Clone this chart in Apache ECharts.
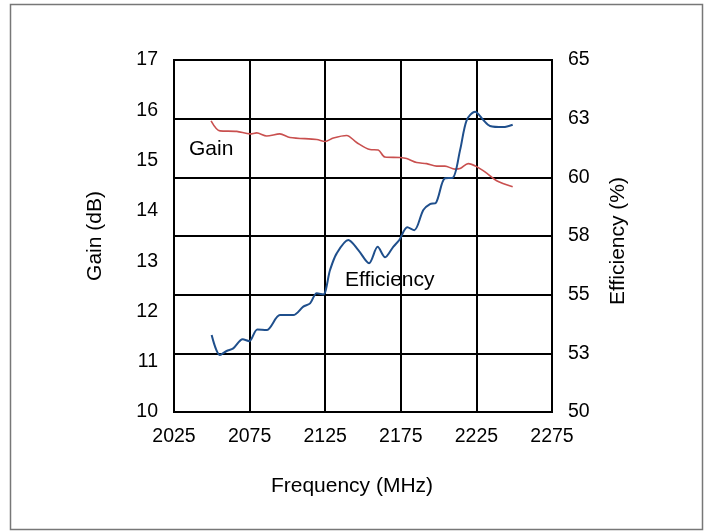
<!DOCTYPE html>
<html><head><meta charset="utf-8">
<script src="https://cdn.jsdelivr.net/npm/echarts@6/dist/echarts.min.js"></script>
<style>html,body{margin:0;padding:0;background:#fff}#c{width:704px;height:531px}</style>
</head><body><div id="c"></div>
<script>
const gainFreq = [2049.5,2055.4,2066.5,2075.3,2079.7,2086.3,2095,2101.7,2119.4,2124.9,2130.4,2139.2,2145.8,2154.6,2160.1,2164.5,2174.5,2178.9,2185.5,2192.1,2198.7,2204.2,2210.8,2214.2,2219.6,2225.2,2231.8,2238.4,2249];
const gainVals = [15.79,15.59,15.58,15.53,15.55,15.49,15.53,15.46,15.42,15.38,15.45,15.50,15.36,15.22,15.21,15.07,15.06,15.04,14.96,14.94,14.89,14.89,14.83,14.84,14.94,14.88,14.75,14.60,14.48];
const effFreq = [2049.9,2055.4,2059.8,2064.2,2070.4,2074.8,2080.1,2086.3,2095.1,2103.9,2110.5,2115,2119.4,2123.7,2128.2,2132.6,2140.3,2146.9,2154,2159.7,2164.6,2170,2174,2179.3,2183.9,2189.9,2194.3,2198.3,2204.2,2209.3,2214.2,2218.6,2224.1,2229.6,2234,2242.8,2249];
const effVals = [53.28,52.43,52.60,52.71,53.10,53.02,53.52,53.49,54.13,54.13,54.49,54.63,55.06,55.01,56.05,56.76,57.33,56.90,56.34,57.04,56.59,57.04,57.33,57.87,57.75,58.61,58.86,58.92,59.96,59.98,61.16,62.44,62.80,62.44,62.19,62.14,62.24];

const font = 'Liberation Sans, Arial, sans-serif';
const chart = echarts.init(document.getElementById('c'));
chart.setOption({
  animation: false,
  backgroundColor: '#fff',
  grid: {left: 174, right: 152, top: 60, bottom: 119, show: true, borderColor: '#000', borderWidth: 2},
  graphic: [
    {type: 'rect', shape: {x: 10.5, y: 4.5, width: 692, height: 525}, style: {fill: 'none', stroke: '#777', lineWidth: 1.5}, silent: true},
    {type: 'text', left: 189, top: 139, style: {text: 'Gain', font: '21px ' + font, fill: '#000'}},
    {type: 'text', left: 345, top: 270, style: {text: 'Efficiency', font: '21px ' + font, fill: '#000'}}
  ],
  xAxis: {
    type: 'value', min: 2025, max: 2275, interval: 50,
    name: 'Frequency (MHz)', nameLocation: 'middle', nameGap: 64,
    nameTextStyle: {fontSize: 21, fontFamily: font, color: '#000', padding: [0, 22, 0, 0]},
    axisLine: {show: true, lineStyle: {color: '#000', width: 2}},
    axisTick: {show: false},
    axisLabel: {fontSize: 19.5, fontFamily: font, color: '#000', margin: 15, formatter: v => String(v)},
    splitLine: {show: true, lineStyle: {color: '#000', width: 2}}
  },
  yAxis: [
    {
      type: 'value', min: 10, max: 17, interval: 1, position: 'left',
      name: 'Gain (dB)', nameLocation: 'middle', nameGap: 68,
      nameTextStyle: {fontSize: 21, fontFamily: font, color: '#000'},
      axisLine: {show: true, lineStyle: {color: '#000', width: 2}},
      axisTick: {show: false},
      axisLabel: {fontSize: 19.5, fontFamily: font, color: '#000', margin: 16},
      splitLine: {show: false}
    },
    {
      type: 'value', min: 50, max: 65, interval: 2.5, position: 'right',
      name: 'Efficiency (%)', nameLocation: 'middle', nameGap: 56,
      nameTextStyle: {fontSize: 21, fontFamily: font, color: '#000', padding: [0, 10, 0, 0]},
      axisLine: {show: true, lineStyle: {color: '#000', width: 2}},
      axisTick: {show: false},
      axisLabel: {fontSize: 19.5, fontFamily: font, color: '#000', margin: 16, formatter: v => String(Math.round(v))},
      splitLine: {show: true, lineStyle: {color: '#000', width: 2}}
    }
  ],
  series: [
    {type: 'line', yAxisIndex: 0, smooth: 0.3, symbol: 'none', data: gainFreq.map((f, i) => [f, gainVals[i]]), lineStyle: {color: '#c9504f', width: 1.6}, z: 5},
    {type: 'line', yAxisIndex: 1, smooth: 0.3, symbol: 'none', data: effFreq.map((f, i) => [f, effVals[i]]), lineStyle: {color: '#1f4f8c', width: 2}, z: 6}
  ]
});
</script></body></html>
